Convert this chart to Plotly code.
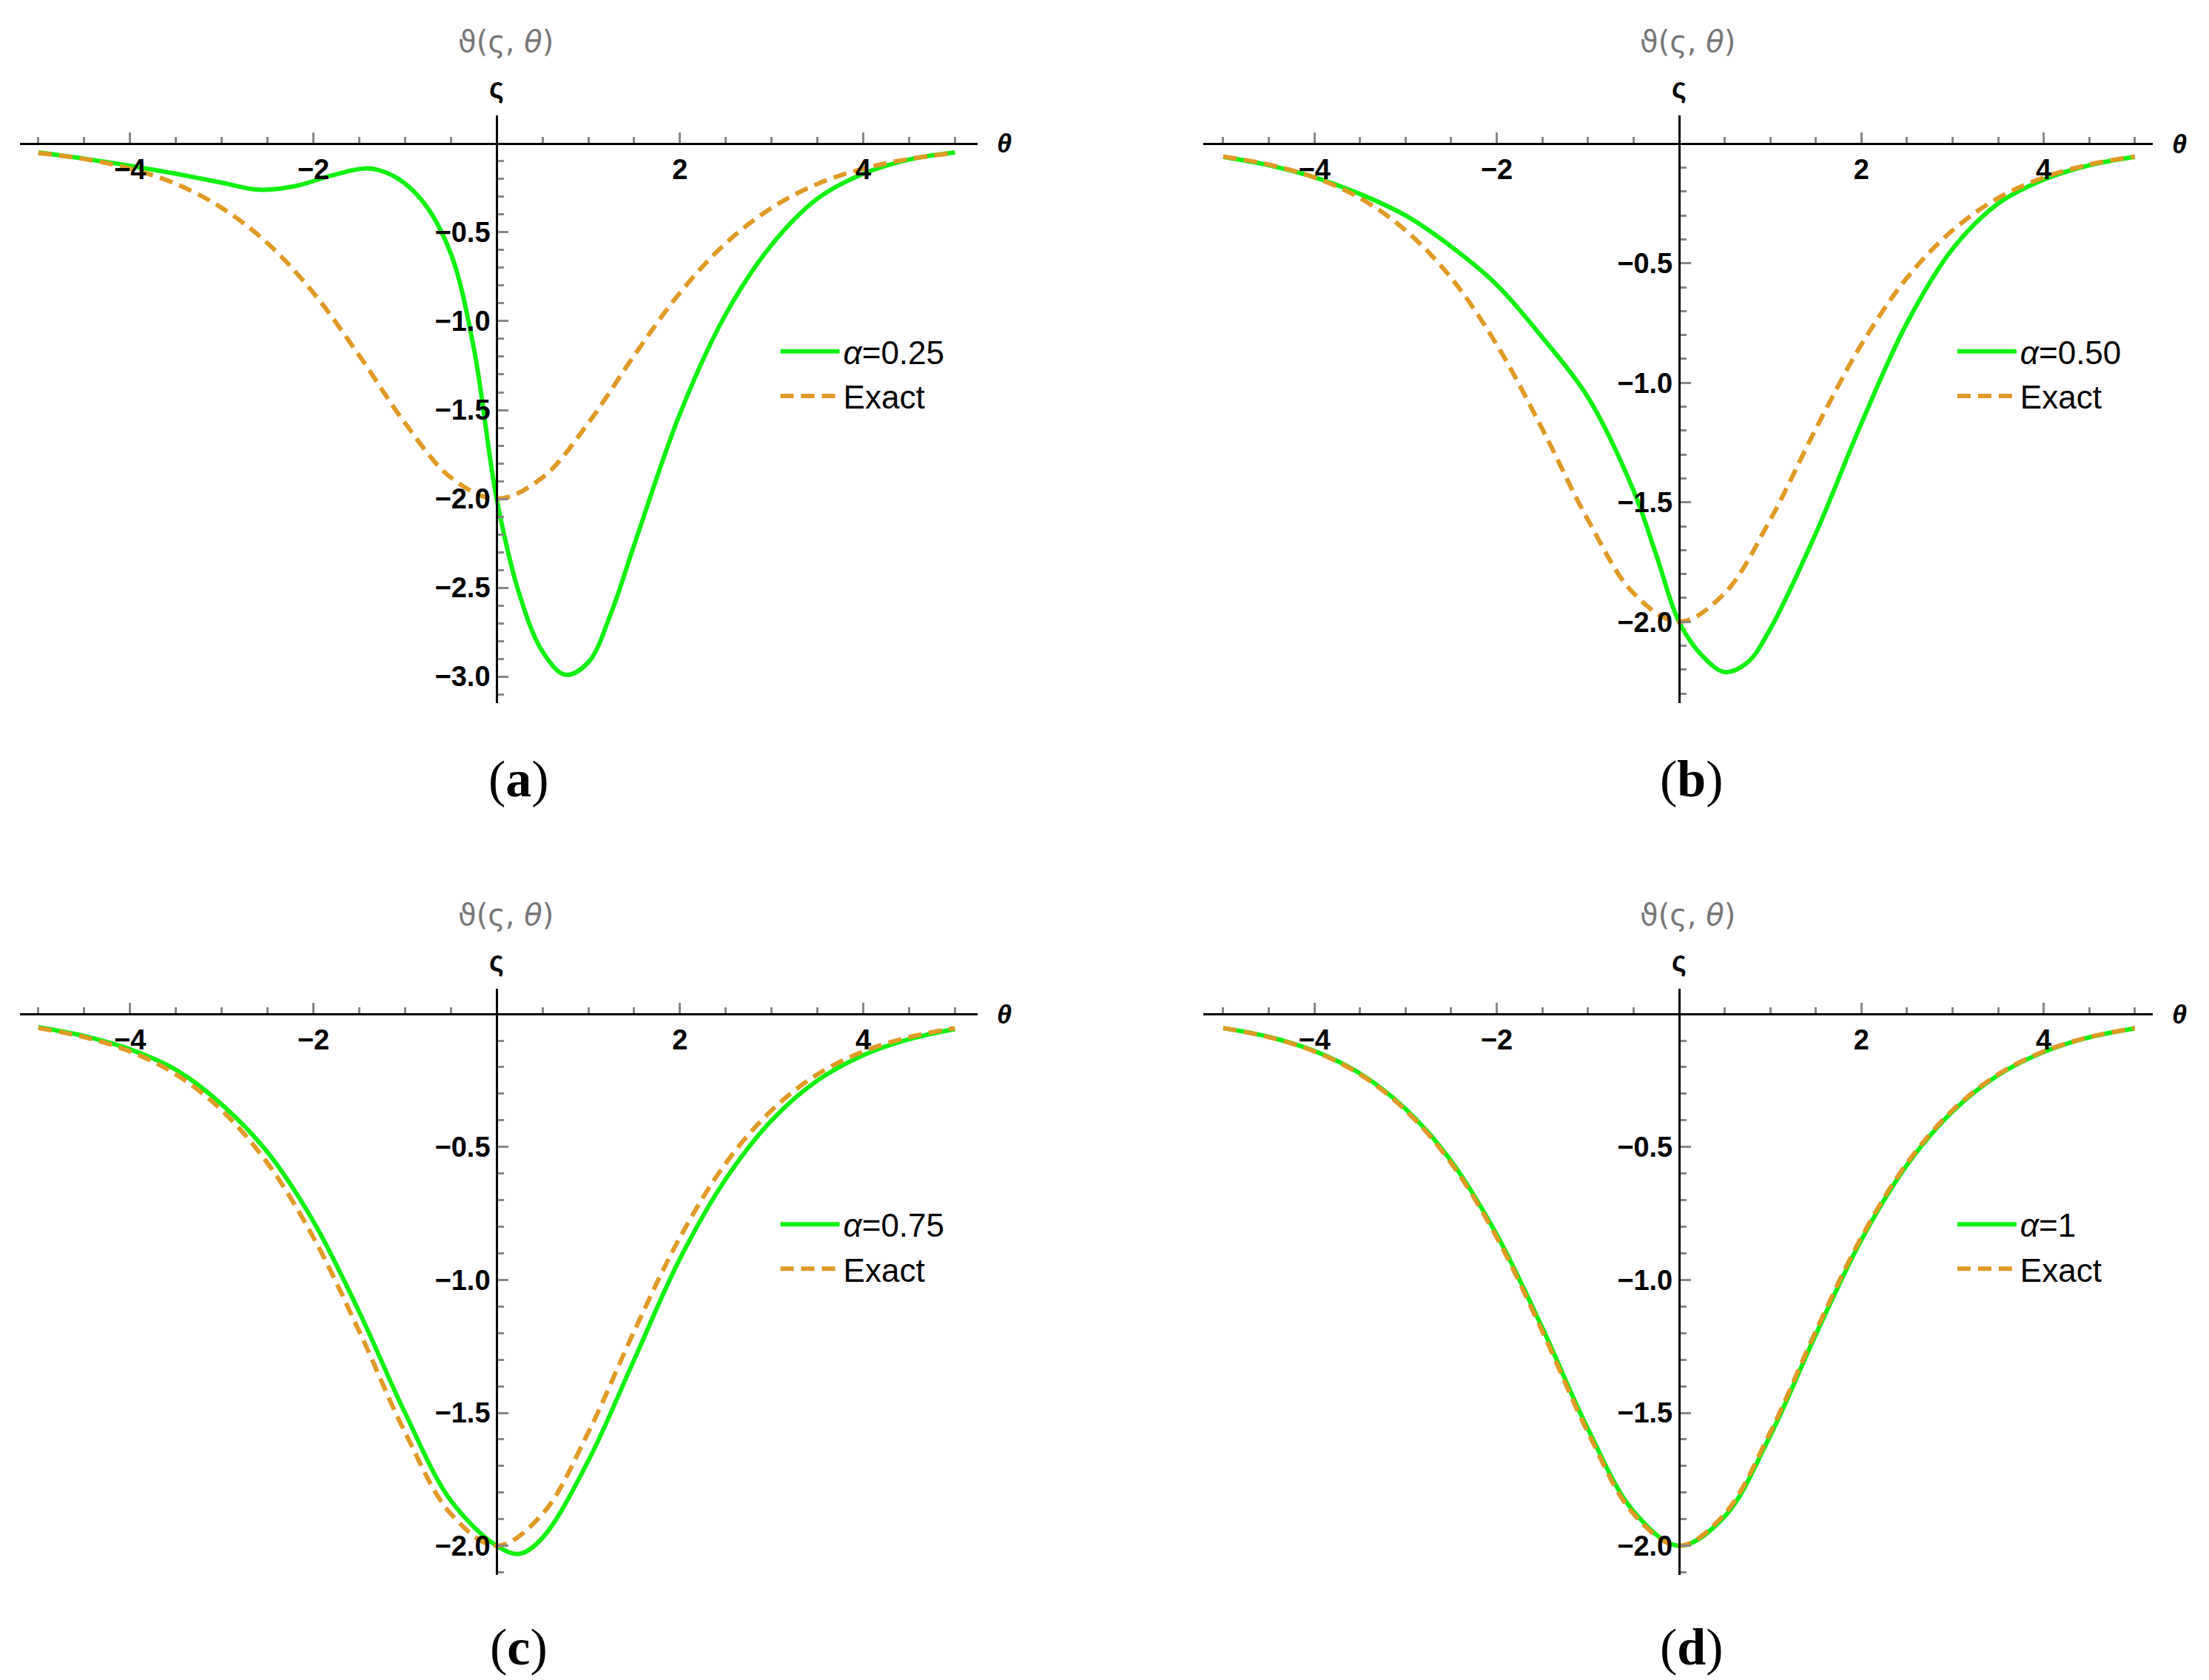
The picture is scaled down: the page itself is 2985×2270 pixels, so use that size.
import plotly.graph_objects as go

# ---------------- data ----------------
theta = [-5, -4.5, -4, -3.5, -3, -2.5, -2, -1.5, -1, -0.5, 0, 0.5, 1, 1.5, 2, 2.5, 3, 3.5, 4, 4.5, 5]
exact = [-0.053, -0.087, -0.141, -0.227, -0.362, -0.561, -0.840, -1.193, -1.573, -1.880, -2.0,
         -1.880, -1.573, -1.193, -0.840, -0.561, -0.362, -0.227, -0.141, -0.087, -0.053]

theta_a = [-5, -4.5, -4, -3.5, -3, -2.6, -2.2, -1.8, -1.4, -1.1, -0.8, -0.5, -0.25, 0, 0.25, 0.5,
           0.75, 1, 1.25, 1.5, 2, 2.5, 3, 3.5, 4, 4.5, 5]
green_a = [-0.05, -0.085, -0.125, -0.17, -0.22, -0.26, -0.24, -0.18, -0.14, -0.19, -0.33, -0.62,
           -1.15, -2.0, -2.54, -2.86, -2.99, -2.92, -2.64, -2.26, -1.52, -0.96, -0.57, -0.31,
           -0.17, -0.09, -0.05]

theta_b = [-5, -4.5, -4, -3.5, -3, -2.5, -2, -1.5, -1, -0.5, -0.25, 0, 0.25, 0.5, 0.75, 1, 1.5,
           2, 2.5, 3, 3.5, 4, 4.5, 5]
green_b = [-0.055, -0.09, -0.14, -0.21, -0.30, -0.43, -0.59, -0.81, -1.06, -1.45, -1.72, -2.0,
           -2.14, -2.21, -2.17, -2.03, -1.63, -1.17, -0.75, -0.44, -0.25, -0.15, -0.09, -0.055]

theta_c = [-5, -4.5, -4, -3.5, -3, -2.5, -2, -1.5, -1, -0.5, 0, 0.25, 0.5, 1, 1.5, 2, 2.5, 3, 3.5,
           4, 4.5, 5]
green_c = [-0.05, -0.083, -0.133, -0.21, -0.34, -0.52, -0.78, -1.12, -1.50, -1.83, -2.0, -2.03,
           -1.97, -1.68, -1.30, -0.92, -0.62, -0.40, -0.25, -0.155, -0.095, -0.057]

theta_d = theta
green_d = [-0.053, -0.086, -0.139, -0.224, -0.357, -0.553, -0.830, -1.180, -1.560, -1.870, -2.0,
           -1.890, -1.586, -1.206, -0.850, -0.568, -0.367, -0.230, -0.143, -0.088, -0.054]

labels = ["<i>α</i>=0.25", "<i>α</i>=0.50", "<i>α</i>=0.75", "<i>α</i>=1"]
panel_tags = ["(<b>a</b>)", "(<b>b</b>)", "(<b>c</b>)", "(<b>d</b>)"]

GREEN = "#12F012"
ORANGE = "#E09A26"

panels = [
    dict(tx=theta_a, gy=green_a, xr=[-5.2, 5.25], yr=[-3.15, 0.16], xd=[0.0064, 0.44], yd=[0.585, 0.935]),
    dict(tx=theta_b, gy=green_b, xr=[-5.22, 5.2], yr=[-2.34, 0.12], xd=[0.542, 0.972], yd=[0.585, 0.935]),
    dict(tx=theta_c, gy=green_c, xr=[-5.2, 5.25], yr=[-2.11, 0.095], xd=[0.0064, 0.44], yd=[0.066, 0.415]),
    dict(tx=theta_d, gy=green_d, xr=[-5.22, 5.2], yr=[-2.11, 0.095], xd=[0.542, 0.972], yd=[0.066, 0.415]),
]

fig = go.Figure()
layout = {}
annotations = []
tickfont = dict(family="Liberation Sans", size=38, color="black", weight="bold")

for i, p in enumerate(panels):
    n = i + 1
    xa = "x" if n == 1 else f"x{n}"
    ya = "y" if n == 1 else f"y{n}"
    lg = "legend" if n == 1 else f"legend{n}"
    fig.add_trace(go.Scatter(x=p["tx"], y=p["gy"], mode="lines", name=labels[i],
                             line=dict(color=GREEN, width=6, shape="spline", smoothing=1.0),
                             xaxis=xa, yaxis=ya, legend=lg))
    fig.add_trace(go.Scatter(x=theta, y=exact, mode="lines", name="Exact",
                             line=dict(color=ORANGE, width=6, dash="18px,10px", shape="spline", smoothing=1.0),
                             xaxis=xa, yaxis=ya, legend=lg))
    x0, x1 = p["xr"]; y0, y1 = p["yr"]
    xpos = p["xd"][0] + (0 - x0) / (x1 - x0) * (p["xd"][1] - p["xd"][0])
    ypos = p["yd"][0] + (0 - y0) / (y1 - y0) * (p["yd"][1] - p["yd"][0])
    yvals = [v / 2 for v in range(-6, 0)]
    yvals = [v for v in yvals if v >= y0]
    layout["xaxis" if n == 1 else f"xaxis{n}"] = dict(
        domain=p["xd"], range=p["xr"], anchor="free", position=ypos, showgrid=False, zeroline=False,
        showline=True, linecolor="black", linewidth=3,
        tickmode="array", tickvals=[-4, -2, 2, 4], ticktext=["−4", "−2", "2", "4"],
        ticks="inside", ticklen=14, tickwidth=3, tickcolor="#888888", tickfont=tickfont,
        minor=dict(tickmode="array", tickvals=[v / 2 for v in range(-10, 11) if v % 4 != 0],
                   ticks="inside", ticklen=8, tickwidth=3, tickcolor="#888888"),
        fixedrange=True)
    layout["yaxis" if n == 1 else f"yaxis{n}"] = dict(
        domain=p["yd"], range=p["yr"], anchor="free", position=xpos, showgrid=False, zeroline=False,
        showline=True, linecolor="black", linewidth=3,
        tickmode="array", tickvals=yvals, ticktext=[("−%.1f" % -v) for v in yvals],
        ticks="inside", ticklen=14, tickwidth=3, tickcolor="#888888", tickfont=tickfont,
        minor=dict(tickmode="array", tickvals=[-k / 10 for k in range(1, 32) if k % 5 != 0],
                   ticks="inside", ticklen=8, tickwidth=3, tickcolor="#888888"),
        fixedrange=True)
    yleg = p["yd"][0] + (p["yd"][1] - p["yd"][0]) * 0.56
    layout[lg] = dict(x=p["xd"][0] + (p["xd"][1] - p["xd"][0]) * 0.79, y=yleg, xanchor="left",
                      yanchor="middle", font=dict(family="Liberation Sans", size=44, color="black"),
                      bgcolor="rgba(0,0,0,0)", itemwidth=80, tracegroupgap=16)
    # axis labels
    xend = p["xd"][1] + 0.008
    annotations.append(dict(text="<b><i>θ</i></b>", x=xend, y=ypos, xref="paper", yref="paper",
                            xanchor="left", yanchor="middle", showarrow=False,
                            font=dict(family="Liberation Sans", size=36, color="black")))
    annotations.append(dict(text="<b>ς</b>", x=xpos, y=p["yd"][1] + 0.006, xref="paper", yref="paper",
                            xanchor="center", yanchor="bottom", showarrow=False,
                            font=dict(family="Liberation Sans", size=38, color="black")))
    annotations.append(dict(text="ϑ(ς, <i>θ</i>)", x=xpos + 0.004, y=p["yd"][1] + 0.033, xref="paper", yref="paper",
                            xanchor="center", yanchor="bottom", showarrow=False,
                            font=dict(family="DejaVu Sans", size=40, color="#777777")))
    annotations.append(dict(text=panel_tags[i], x=(0.232 if n in (1, 3) else 0.763),
                            y=(0.54 if n <= 2 else 0.023), xref="paper", yref="paper",
                            xanchor="center", yanchor="middle", showarrow=False,
                            font=dict(family="Liberation Serif", size=70, color="black")))

fig.update_layout(**layout)
fig.update_layout(width=2985, height=2270, margin=dict(l=0, r=0, t=0, b=0),
                  plot_bgcolor="white", paper_bgcolor="white", annotations=annotations,
                  showlegend=True)
fig.write_html("out.html")
